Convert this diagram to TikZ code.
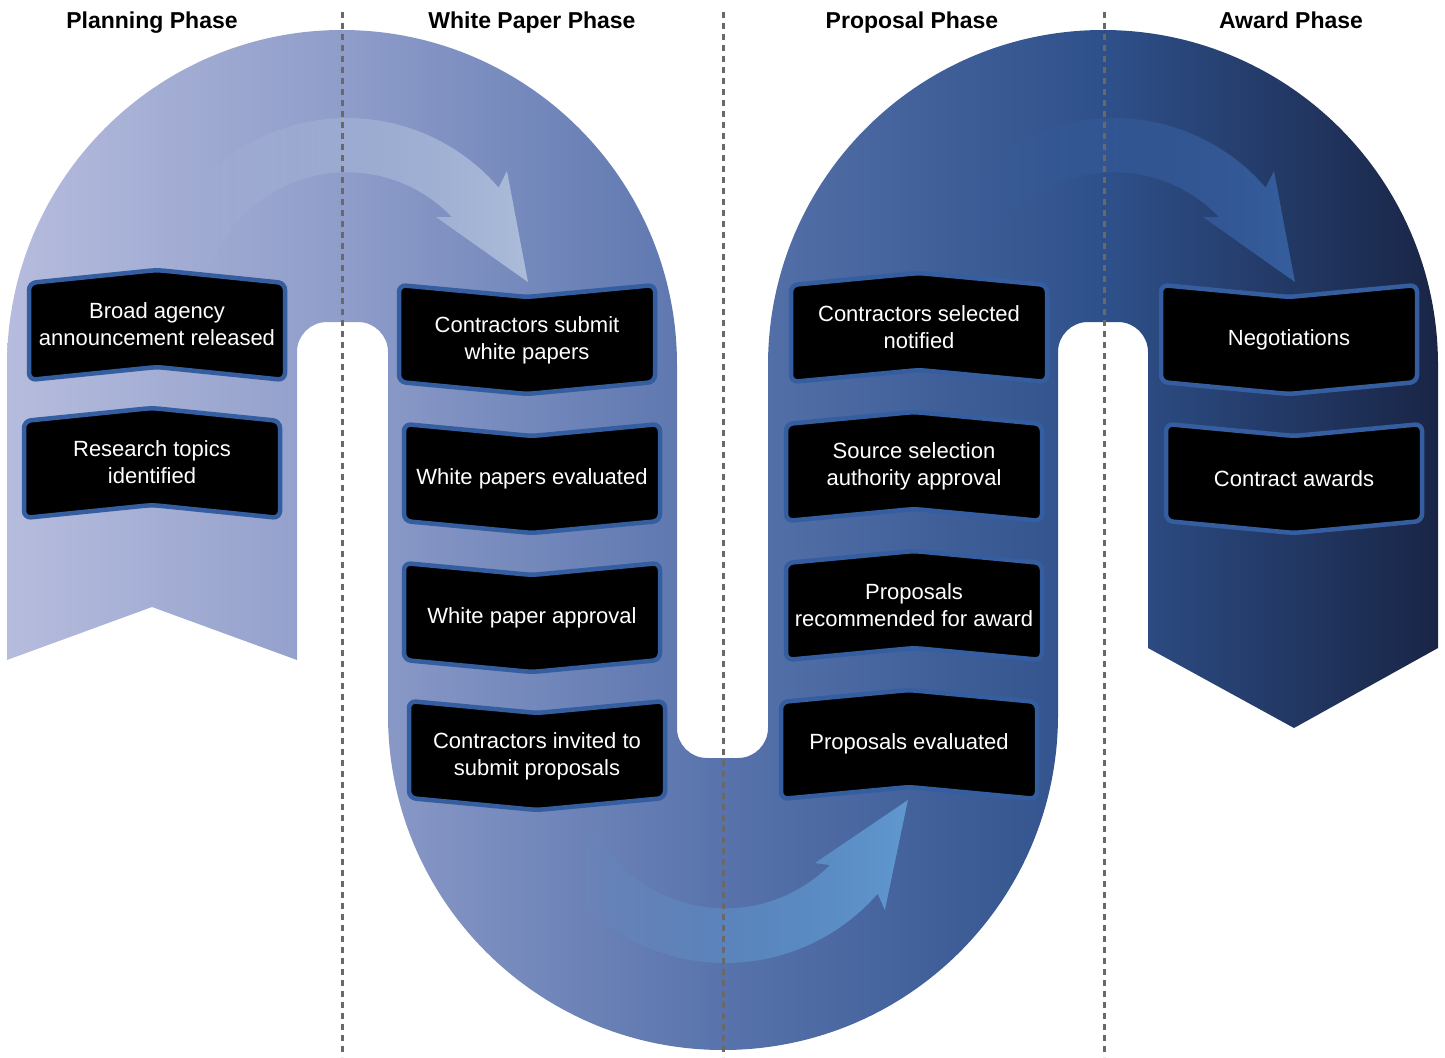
\documentclass[tikz,border=0pt]{standalone}
\usepackage{fontspec}
\setmainfont{Liberation Sans}
\usetikzlibrary{fadings}

\definecolor{rA}{RGB}{182,188,221}
\definecolor{rB}{RGB}{143,157,202}
\definecolor{rC}{RGB}{88,115,172}
\definecolor{rD}{RGB}{46,80,138}
\definecolor{rE}{RGB}{25,37,70}
\definecolor{boxblue}{RGB}{52,94,160}
\definecolor{dashgray}{RGB}{105,105,105}
\definecolor{arrA}{RGB}{172,188,218}
\definecolor{arrB}{RGB}{54,94,158}
\definecolor{arrC}{RGB}{96,152,207}

\pgfdeclarehorizontalshading{ribbonshade}{100bp}{color(0bp)=(rA); color(25bp)=(rA); color(36.7bp)=(rB); color(50bp)=(rC); color(63.35bp)=(rD); color(75bp)=(rE); color(100bp)=(rE)}

\tikzfading[name=arrowfade, left color=transparent!95, middle color=transparent!12, right color=transparent!0]

\newcommand\chevbox[5]{%
\begin{scope}[shift={(#2,#3)}]
\draw[boxshape] (0,0) -- (128,#4) -- (256,0) -- (256,97) -- (128,{97+#4}) -- (0,97) -- cycle;
\node[boxtext] (#1) at (128,{48.5+0.55*#4}) {#5};
\end{scope}}

\newcommand\toparrow{(347,318) ++(-135:200) arc[start angle=-135, end angle=-40.7, radius=200] -- (507,171) -- (528,282) -- (436,217) -- (452,217) arc[start angle=-43.9, end angle=-160, radius=146] -- cycle}

\begin{document}
\begin{tikzpicture}[x=1pt,y=1pt,yscale=-1,
  boxshape/.style={fill=black, draw=boxblue, line width=4.5pt, rounded corners=7pt},
  boxtext/.style={text=white, align=center, font=\fontsize{22}{27}\selectfont, inner sep=0pt},
  header/.style={font=\fontsize{23}{27}\selectfont\bfseries, text=black, inner sep=0pt, anchor=base},
  phaseline/.style={draw=dashgray, line width=3pt, dash pattern=on 6pt off 5pt}]
\useasboundingbox (0,0) rectangle (1445,1057);

% ribbon
\path[shading=ribbonshade] (7,660) -- (7,365) arc[start angle=180, end angle=360, radius=335]
 -- (677,728) arc[start angle=180, end angle=90, radius=30]
 -- (738,758) arc[start angle=90, end angle=0, radius=30]
 -- (768,365) arc[start angle=180, end angle=360, radius=335]
 -- (1438,648) -- (1294,728) -- (1148,648)
 -- (1148,352) arc[start angle=0, end angle=-90, radius=30]
 -- (1088,322) arc[start angle=-90, end angle=-180, radius=30]
 -- (1058,715) arc[start angle=0, end angle=180, radius=335]
 -- (388,352) arc[start angle=0, end angle=-90, radius=30]
 -- (327,322) arc[start angle=-90, end angle=-180, radius=30]
 -- (297,660) -- (152,607) -- cycle;

% curved arrows
\fill[arrA, path fading=arrowfade] \toparrow;
\begin{scope}[shift={(767,0)}]
\fill[arrB, path fading=arrowfade] \toparrow;
\end{scope}
\fill[arrC, path fading=arrowfade] (725,760) ++(134:203) arc[start angle=134, end angle=41.2, radius=203] -- (885,910) -- (908,800) -- (815,863) -- (830,865) arc[start angle=45, end angle=157, radius=148] -- cycle;

% phase separators
\coordinate (d1t) at (342,12); \coordinate (d1b) at (342,1057);
\coordinate (d2t) at (723,12); \coordinate (d2b) at (723,1057);
\coordinate (d3t) at (1104,12); \coordinate (d3b) at (1104,1057);
\draw[phaseline] (d1t) -- (d1b);
\draw[phaseline] (d2t) -- (d2b);
\draw[phaseline] (d3t) -- (d3b);

% boxes
\chevbox{b1}{29}{283}{-13}{Broad agency\\announcement released}
\chevbox{b2}{24}{421}{-13}{Research topics\\identified}
\chevbox{b3}{399}{285}{12}{Contractors submit\\white papers}
\chevbox{b4}{404}{424}{12}{White papers evaluated}
\chevbox{b5}{404}{563}{12}{White paper approval}
\chevbox{b6}{409}{701}{12}{Contractors invited to\\submit proposals}
\chevbox{b7}{791}{285}{-12}{Contractors selected\\notified}
\chevbox{b8}{786}{424}{-12}{Source selection\\authority approval}
\chevbox{b9}{786}{563}{-12}{Proposals\\recommended for award}
\chevbox{b10}{781}{702}{-12}{Proposals evaluated}
\chevbox{b11}{1161}{285}{12}{Negotiations}
\chevbox{b12}{1166}{424}{12}{Contract awards}

% headers
\node[header] (h1) at (152,29) {Planning Phase};
\node[header] (h2) at (532,29) {White Paper Phase};
\node[header] (h3) at (912,29) {Proposal Phase};
\node[header] (h4) at (1291,29) {Award Phase};
\end{tikzpicture}
\end{document}
